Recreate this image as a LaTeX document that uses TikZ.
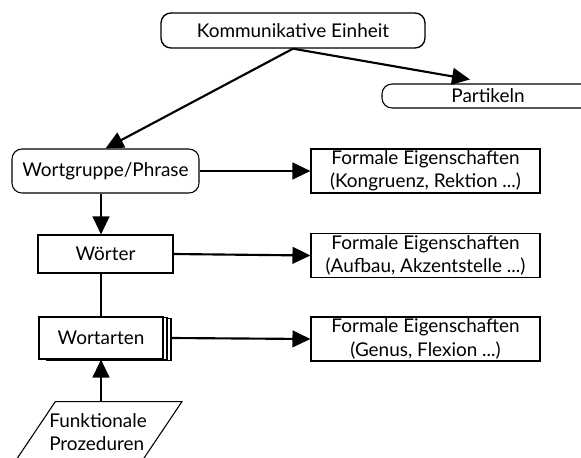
\documentclass[tikz,border=0pt]{standalone}
\usepackage{fontspec}
\setmainfont{Lato}
\usetikzlibrary{shapes,arrows.meta,positioning,calc,shadows}

\tikzset{
    box/.style={draw, line width=0.8pt, fill=white, align=center, inner sep=1pt,
        font=\fontsize{14.2}{17.5}\selectfont},
    roundbox/.style={box, rounded corners=7.5pt},
    formal/.style={box, minimum width=171.75pt, minimum height=33pt},
    link/.style={line width=1.6pt, -{Triangle[length=13.5pt,width=12.5pt]}},
    plainlink/.style={line width=1.6pt}
}

\begin{document}
\begin{tikzpicture}[x=0.75pt, y=-0.75pt]
\useasboundingbox (0,0) rectangle (581,457);

% top of the tree
\node[roundbox, line width=1pt, minimum width=198pt, minimum height=26.25pt] (einheit) at (293,30.5) {Kommunikative Einheit};
\node[roundbox, minimum width=159pt, minimum height=18pt] (partikeln) at (488,96) {Partikeln};

% left column
\node[roundbox, minimum width=140.25pt, minimum height=33pt] (phrase) at (105.5,171) {Wortgruppe/Phrase};
\node[box, minimum width=101.25pt, minimum height=28.5pt] (woerter) at (105.5,254) {Wörter};
\node[box, minimum width=93pt, minimum height=31.5pt,
    double copy shadow={shadow xshift=3pt, shadow yshift=-0.5pt}] (wortarten) at (101,338) {Wortarten};

% formal properties
\node[formal] (formal1) at (425.5,171) {Formale Eigenschaften\\(Kongruenz, Rektion ...)};
\node[formal] (formal2) at (425.5,255.5) {Formale Eigenschaften\\(Aufbau,\ Akzentstelle ...)};
\node[formal] (formal3) at (425.5,339) {Formale Eigenschaften\\(Genus, Flexion ...)};

% input at the bottom
\node[draw, line width=0.8pt, trapezium, trapezium left angle=60, trapezium right angle=120,
    trapezium stretches=true, minimum width=129.75pt, minimum height=51.75pt, anchor=north] (funkt) at (95.5,401) {};
\node[align=left, anchor=north west, inner sep=0pt, font=\fontsize{14.2}{17.5}\selectfont] (funkttext) at (49,413) {Funktionale\\Prozeduren};

% connectors
\draw[link] (einheit.south) -- (phrase.north);
\draw[link] (einheit.south) -- ($(partikeln.north)+(-18,-4)$);
\draw[link] (phrase.east) -- (formal1.west);
\draw[link] (phrase.south -| wortarten) -- (woerter.north -| wortarten);
\draw[plainlink] (woerter.south -| wortarten) -- (wortarten.north);
\draw[link] (woerter.east) -- (formal2.west);
\draw[link] ([xshift=6.5pt]wortarten.east) -- (formal3.west);
\draw[link] (funkt.north -| wortarten) -- (wortarten.south);

\end{tikzpicture}
\end{document}
